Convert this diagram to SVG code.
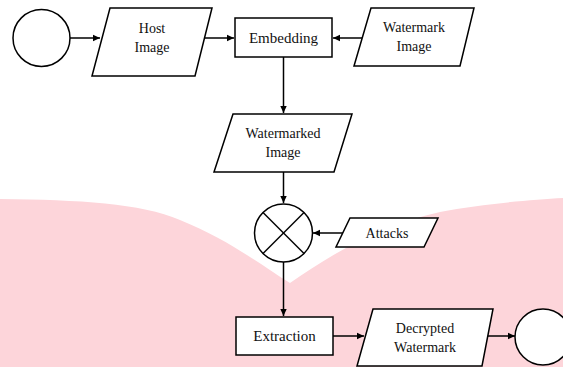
<svg xmlns="http://www.w3.org/2000/svg" width="563" height="367" viewBox="0 0 563 367">
<style>
.s{fill:#fff;stroke:#000;stroke-width:1.5}
.t{font-family:"Liberation Serif","Times New Roman",serif;font-size:14px;fill:#111;text-anchor:middle}
.c{fill:none;stroke:#000;stroke-width:1.5}
</style>
<defs>
<marker id="ah" markerWidth="8" markerHeight="8" refX="7" refY="4" orient="auto" markerUnits="userSpaceOnUse">
<path d="M0,0.8 L7,4 L0,7.2 Z" fill="#000"/>
</marker>
</defs>
<rect width="563" height="367" fill="#fff"/>
<path d="M0,199 C80,200 140,203 180,220 C230,240 265,268 290,283 C330,255 380,225 440,212 C480,204 530,200 563,198 L563,367 L0,367 Z" fill="#fdd5da"/>
<g id="connectors">
<line class="c" x1="70" y1="38" x2="100" y2="38" marker-end="url(#ah)"/>
<line class="c" x1="203" y1="38" x2="234" y2="38" marker-end="url(#ah)"/>
<line class="c" x1="362" y1="38" x2="333" y2="38" marker-end="url(#ah)"/>
<line class="c" x1="283.5" y1="57" x2="283.5" y2="113" marker-end="url(#ah)"/>
<line class="c" x1="283.5" y1="172" x2="283.5" y2="203" marker-end="url(#ah)"/>
<line class="c" x1="343" y1="233" x2="313" y2="233" marker-end="url(#ah)"/>
<line class="c" x1="283.5" y1="262" x2="283.5" y2="316" marker-end="url(#ah)"/>
<line class="c" x1="333" y1="336" x2="364" y2="336" marker-end="url(#ah)"/>
<line class="c" x1="487" y1="336" x2="515" y2="336" marker-end="url(#ah)"/>
</g>
<g id="start"><circle class="s" cx="41.5" cy="38" r="28.5"/></g>
<g id="host-image">
<polygon class="s" points="110,8 212,8 195,76 92,76"/>
<text class="t" x="152" y="33">Host</text>
<text class="t" x="152" y="52">Image</text>
</g>
<g id="embedding">
<rect class="s" x="235" y="18" width="97" height="39"/>
<text class="t" x="283.5" y="43" style="font-size:15px">Embedding</text>
</g>
<g id="watermark-image">
<polygon class="s" points="371,8 474,8 460,66 354,66"/>
<text class="t" x="414" y="32">Watermark</text>
<text class="t" x="414" y="51">Image</text>
</g>
<g id="watermarked-image">
<polygon class="s" points="233,114 352,114 334,172 214,172"/>
<text class="t" x="283" y="138">Watermarked</text>
<text class="t" x="283" y="157">Image</text>
</g>
<g id="mixer">
<circle class="s" cx="283.5" cy="233" r="29"/>
<line class="c" x1="263" y1="212.5" x2="304" y2="253.5"/>
<line class="c" x1="304" y1="212.5" x2="263" y2="253.5"/>
</g>
<g id="attacks">
<polygon class="s" points="350,218 438,218 424,247 336,247"/>
<text class="t" x="387" y="238">Attacks</text>
</g>
<g id="extraction">
<rect class="s" x="236" y="317" width="97" height="38"/>
<text class="t" x="284.5" y="341" style="font-size:15px">Extraction</text>
</g>
<g id="decrypted-watermark">
<polygon class="s" points="373,309 493,309 482,366 357,366"/>
<text class="t" x="425" y="333">Decrypted</text>
<text class="t" x="425" y="352">Watermark</text>
</g>
<g id="end"><circle class="s" cx="543" cy="337" r="28"/></g>
</svg>
